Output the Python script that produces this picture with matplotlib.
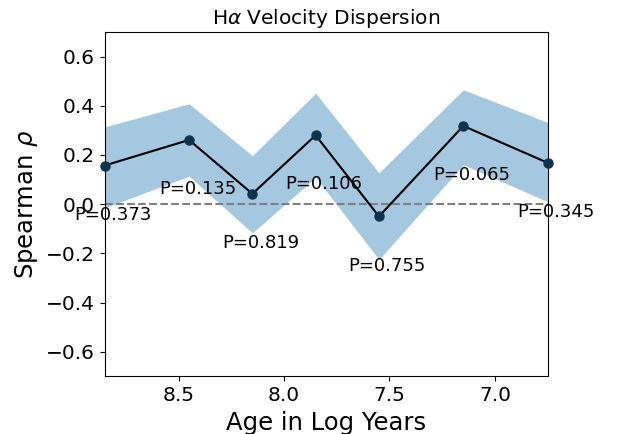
import matplotlib
matplotlib.use('Agg')
import matplotlib.pyplot as plt

# log age bins (x axis is inverted)
age = [8.85, 8.45, 8.15, 7.85, 7.55, 7.15, 6.75]
rho = [0.157, 0.261, 0.042, 0.280, -0.050, 0.318, 0.168]
rho_lo = [-0.015, 0.114, -0.117, 0.109, -0.225, 0.160, 0.010]
rho_hi = [0.314, 0.408, 0.197, 0.451, 0.127, 0.465, 0.332]
pvals = ['0.373', '0.135', '0.819', '0.106', '0.755', '0.065', '0.345']

fig = plt.figure(figsize=(6.17, 4.34), dpi=100)
ax = fig.add_axes([0.1697, 0.1330, 0.7180, 0.7933])

ax.fill_between(age, rho_lo, rho_hi, color='tab:blue', alpha=0.4, lw=0)
ax.axhline(0, color='gray', ls='--', lw=1.5)
ax.plot(age, rho, color='k', lw=1.5, zorder=3)
ax.plot(age, rho, 'o', color='#0e3350', ms=6.5, zorder=4, clip_on=False)

for a, r, p in zip(age, rho, pvals):
    ax.text(a - 0.04, r - 0.2, 'P=' + p, fontsize=13, ha='center', va='center', zorder=5)

ax.set_xlim(8.85, 6.75)
ax.set_ylim(-0.7, 0.7)
ax.set_xticks([8.5, 8.0, 7.5, 7.0])
ax.set_yticks([-0.6, -0.4, -0.2, 0.0, 0.2, 0.4, 0.6])
ax.tick_params(labelsize=14.5)

ax.set_xlabel('Age in Log Years', fontsize=17.5)
ax.set_ylabel(r'Spearman $\rho$', fontsize=17.5)
ax.set_title(r'H$\alpha$ Velocity Dispersion', fontsize=14.5)

fig.savefig('out.png', dpi=100)
